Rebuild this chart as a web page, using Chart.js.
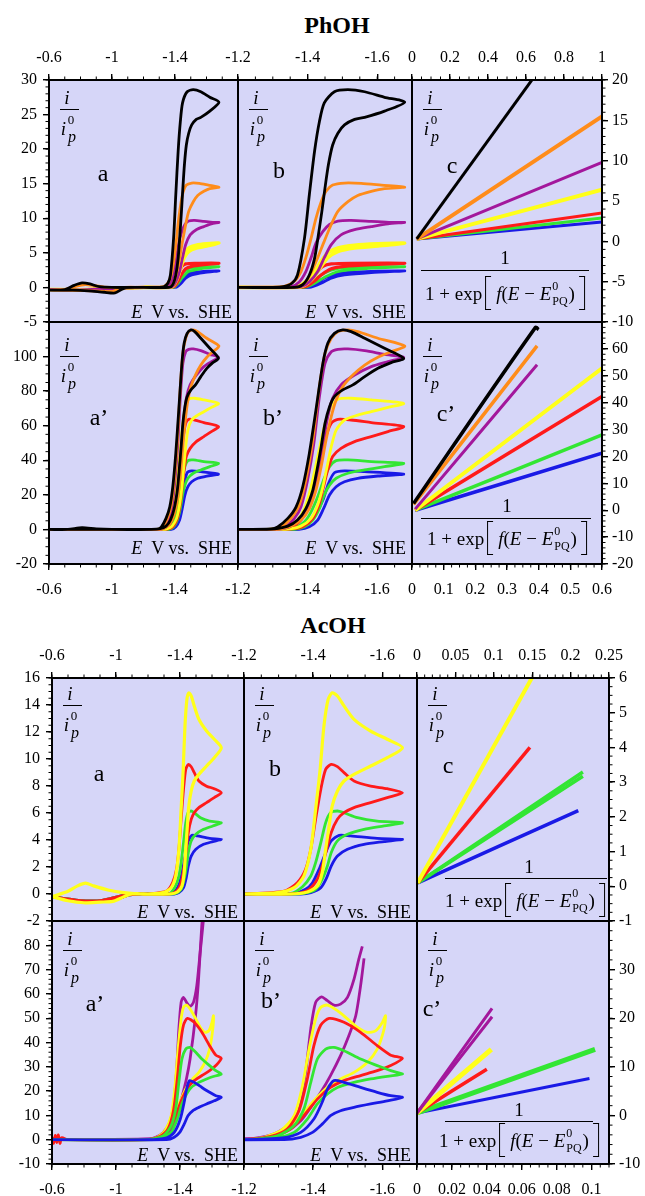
<!DOCTYPE html>
<html>
<head>
<meta charset="utf-8">
<script src="https://cdn.jsdelivr.net/npm/chart.js@4.4.0/dist/chart.umd.min.js"></script>
<style>
body { margin: 0; background: #fff; }
#fig { position: relative; width: 645px; height: 1196px; overflow: hidden; font-family: 'Liberation Serif', serif; color: #000; }
canvas { position: absolute; }
.t { position: absolute; white-space: nowrap; line-height: 1; transform: translate(-50%, -50%); }
.title { font-weight: bold; font-size: 24px; }
.lab { font-size: 24px; }
.sv { font-size: 18px; transform: translate(-100%, -50%); }
.ip { position: absolute; width: 0; height: 0; }
.ip span { position: absolute; line-height: 1; transform: translate(-50%, -50%); }
.ip .bar { position: absolute; height: 1.3px; background: #000; }
.num { font-size: 19px; }
.den { font-size: 19px; display: flex; align-items: center; }
.bk { display: inline-block; width: 5px; height: 32px; border: 1.2px solid #000; }
.bl { border-right: none; margin: 0 5px 0 3px; }
.br { border-left: none; margin-left: 4px; }
.ss { display: inline-flex; flex-direction: column; font-size: 12px; line-height: 1; margin: 0 1px; }
.ss span:first-child { margin-bottom: 3px; }
.fbar { position: absolute; height: 1.3px; background: #000; }
</style>
</head>
<body>
<div id="fig"></div>
<script>
// ---------- PhOH, panels a / b : i/ip0 vs E (V vs SHE), forward scan then reverse
const phBlack = [[-0.60,-0.4],[-0.70,-0.3],[-0.76,0.3],[-0.81,0.65],[-0.86,0.5],[-0.92,0.1],[-1.00,0],[-1.20,0],[-1.30,0],[-1.33,0.1],[-1.355,0.6],[-1.371,1.8],[-1.391,7.1],[-1.405,13.4],[-1.42,19.7],[-1.434,24.0],[-1.448,26.7],[-1.477,28.3],[-1.516,28.6],[-1.564,28.3],[-1.621,27.5],[-1.679,26.8],
  [-1.621,25.5],[-1.564,24.6],[-1.535,24.3],[-1.506,23.5],[-1.487,22.3],[-1.472,20.6],[-1.46,17.8],[-1.45,14.4],[-1.441,11.0],[-1.431,7.6],[-1.42,4.2],[-1.405,1.8],[-1.386,0.4],[-1.362,0],[-1.20,0],[-1.10,0],[-1.06,-0.3],[-1.02,-0.8],[-0.95,-0.7],[-0.85,-0.5],[-0.75,-0.4],[-0.60,-0.4]];
const phOrange = [[-0.60,-0.35],[-0.70,-0.3],[-0.77,0.15],[-0.83,0.4],[-0.89,0.25],[-0.95,0.05],[-1.05,0],[-1.20,0],[-1.30,0],[-1.333,0.15],[-1.362,0.9],[-1.381,2.3],[-1.395,4.3],[-1.41,7.1],[-1.424,10.0],[-1.439,12.4],[-1.453,13.9],[-1.472,14.8],[-1.506,15.1],[-1.554,15.05],[-1.612,14.8],[-1.679,14.5],
  [-1.621,14.3],[-1.583,13.9],[-1.544,13.3],[-1.516,12.4],[-1.487,11.0],[-1.468,9.1],[-1.448,6.7],[-1.429,4.3],[-1.41,2.1],[-1.391,0.6],[-1.362,0],[-1.20,0],[-1.08,0],[-1.04,-0.3],[-1.0,-0.6],[-0.93,-0.55],[-0.82,-0.45],[-0.72,-0.35],[-0.60,-0.35]];
const phPurple = [[-0.60,-0.3],[-0.80,-0.35],[-1.00,-0.1],[-1.20,0],[-1.30,0],[-1.352,0.1],[-1.376,0.8],[-1.395,2.3],[-1.41,4.3],[-1.424,6.4],[-1.444,8.1],[-1.463,9.1],[-1.487,9.6],[-1.525,9.7],[-1.583,9.55],[-1.640,9.4],[-1.679,9.4],
  [-1.631,9.2],[-1.583,8.8],[-1.535,8.35],[-1.496,7.6],[-1.468,6.2],[-1.448,4.3],[-1.429,2.3],[-1.405,0.8],[-1.381,0.1],[-1.34,0],[-1.20,0],[-1.00,-0.2],[-0.80,-0.4],[-0.60,-0.3]];
const phYellow = [[-0.60,-0.3],[-0.80,-0.35],[-1.00,-0.1],[-1.20,0],[-1.32,0],[-1.371,0.15],[-1.40,1.1],[-1.42,2.3],[-1.439,3.8],[-1.458,5.0],[-1.487,5.7],[-1.535,6.1],[-1.602,6.3],[-1.679,6.4],
  [-1.602,6.0],[-1.535,5.7],[-1.487,5.2],[-1.458,4.3],[-1.439,3.05],[-1.42,1.6],[-1.40,0.6],[-1.381,0.1],[-1.34,0],[-1.20,0],[-1.00,-0.2],[-0.80,-0.4],[-0.60,-0.3]];
const phRed = [[-0.60,-0.3],[-0.80,-0.35],[-1.00,-0.1],[-1.20,0],[-1.33,0],[-1.381,0.1],[-1.405,0.9],[-1.424,2.1],[-1.444,3.05],[-1.468,3.4],[-1.525,3.5],[-1.679,3.5],
  [-1.583,3.3],[-1.506,3.05],[-1.468,2.7],[-1.439,1.8],[-1.42,0.95],[-1.395,0.15],[-1.35,0],[-1.20,0],[-1.00,-0.2],[-0.80,-0.4],[-0.60,-0.3]];
const phGreen = [[-0.60,-0.3],[-0.80,-0.35],[-1.00,-0.1],[-1.20,0],[-1.34,0],[-1.386,0.05],[-1.415,0.9],[-1.439,1.8],[-1.468,2.5],[-1.516,2.9],[-1.679,3.0],
  [-1.564,2.7],[-1.487,2.3],[-1.448,1.45],[-1.42,0.6],[-1.395,0.05],[-1.35,0],[-1.20,0],[-1.00,-0.2],[-0.80,-0.4],[-0.60,-0.3]];
const phBlue = [[-0.60,-0.3],[-0.80,-0.35],[-1.00,-0.1],[-1.20,0],[-1.35,0],[-1.391,0],[-1.42,0.5],[-1.448,1.35],[-1.477,1.9],[-1.525,2.2],[-1.679,2.4],
  [-1.583,2.15],[-1.506,1.8],[-1.468,1.35],[-1.439,0.6],[-1.41,0.05],[-1.36,0],[-1.20,0],[-1.00,-0.2],[-0.80,-0.4],[-0.60,-0.3]];

// ---------- PhOH, panels a' / b'
const phBlack2 = [[-0.60,0],[-0.72,0],[-0.81,1.0],[-0.90,0.3],[-1.00,0],[-1.20,0],[-1.295,0.3],[-1.314,1.5],[-1.343,6.4],[-1.367,13.1],[-1.386,24.7],[-1.405,44.0],[-1.424,69.1],[-1.444,96.1],[-1.458,107.7],[-1.477,113.4],[-1.501,115.4],[-1.525,114.4],[-1.564,110.6],[-1.621,104.8],[-1.676,99.0],
  [-1.640,96.5],[-1.602,93.2],[-1.564,88.4],[-1.530,83.6],[-1.501,80.7],[-1.477,76.8],[-1.463,71.0],[-1.450,61.4],[-1.439,47.9],[-1.427,34.4],[-1.415,22.8],[-1.395,12.1],[-1.371,5.4],[-1.343,1.9],[-1.305,0.4],[-1.25,0],[-1.00,0],[-0.60,0]];
const phOrange2 = [[-0.60,0],[-1.20,0],[-1.30,0.2],[-1.324,1.5],[-1.352,6.4],[-1.376,14.1],[-1.395,28.6],[-1.415,51.7],[-1.434,82.6],[-1.450,101.9],[-1.468,110.6],[-1.487,114.4],[-1.516,115.4],[-1.544,114.4],[-1.602,110.6],[-1.679,106.1],
  [-1.640,102.8],[-1.602,99.6],[-1.564,95.1],[-1.530,89.3],[-1.501,82.6],[-1.482,74.9],[-1.468,65.3],[-1.453,51.7],[-1.439,36.3],[-1.424,22.8],[-1.405,12.1],[-1.381,5.4],[-1.352,1.9],[-1.314,0.2],[-1.25,0],[-0.60,0]];
const phPurple2 = [[-0.60,0],[-1.20,0],[-1.31,0.2],[-1.333,1.2],[-1.362,6.4],[-1.381,13.1],[-1.400,28.6],[-1.418,49.8],[-1.434,76.8],[-1.450,96.1],[-1.468,102.8],[-1.487,104.2],[-1.516,104.4],[-1.564,103.4],[-1.621,101.3],[-1.676,99.6],
  [-1.631,97.1],[-1.583,94.2],[-1.535,89.3],[-1.496,83.6],[-1.472,75.9],[-1.458,65.3],[-1.444,49.8],[-1.431,36.3],[-1.418,22.8],[-1.400,12.1],[-1.376,5.4],[-1.348,1.5],[-1.314,0.2],[-1.25,0],[-0.60,0]];
const phYellow2 = [[-0.60,0],[-1.20,0],[-1.30,0.1],[-1.343,1.2],[-1.371,5.4],[-1.391,12.1],[-1.410,24.7],[-1.429,42.0],[-1.448,59.5],[-1.468,71.0],[-1.487,75.3],[-1.525,75.9],[-1.583,74.9],[-1.676,72.9],
  [-1.631,70.6],[-1.583,68.1],[-1.544,66.1],[-1.506,63.3],[-1.482,57.5],[-1.468,47.9],[-1.456,36.3],[-1.444,24.7],[-1.429,14.1],[-1.410,6.4],[-1.381,1.9],[-1.343,0.2],[-1.28,0],[-0.60,0]];
const phRed2 = [[-0.60,0],[-1.20,0],[-1.31,0.1],[-1.352,1.2],[-1.381,5.4],[-1.400,12.1],[-1.418,22.8],[-1.434,36.3],[-1.450,51.7],[-1.468,61.4],[-1.487,63.7],[-1.525,63.3],[-1.583,61.8],[-1.676,59.5],
  [-1.631,56.6],[-1.583,53.7],[-1.535,50.8],[-1.496,46.9],[-1.472,42.2],[-1.458,34.4],[-1.446,24.7],[-1.434,15.0],[-1.415,6.4],[-1.386,1.5],[-1.352,0.2],[-1.29,0],[-0.60,0]];
const phGreen2 = [[-0.60,0],[-1.20,0],[-1.32,0.1],[-1.362,0.8],[-1.391,4.4],[-1.410,10.2],[-1.429,18.9],[-1.446,28.6],[-1.463,36.3],[-1.482,39.8],[-1.516,40.2],[-1.583,39.2],[-1.676,38.2],
  [-1.621,36.3],[-1.564,34.4],[-1.516,32.5],[-1.482,29.6],[-1.463,25.6],[-1.448,19.9],[-1.434,12.1],[-1.415,5.4],[-1.391,1.5],[-1.362,0],[-1.30,0],[-0.60,0]];
const phBlue2 = [[-0.60,0],[-1.20,0],[-1.33,0],[-1.371,0.4],[-1.400,3.5],[-1.424,9.3],[-1.444,17.0],[-1.460,26.6],[-1.477,32.8],[-1.506,33.9],[-1.564,33.4],[-1.676,32.0],
  [-1.602,30.9],[-1.544,29.6],[-1.506,27.6],[-1.482,24.7],[-1.463,19.9],[-1.446,12.1],[-1.429,5.4],[-1.405,1.5],[-1.376,0],[-1.30,0],[-0.60,0]];

// ---------- PhOH, panels c / c' : i/ip0 vs 1/(1+exp[f(E-E0)])
const phLinBlack = [[0.025,0.3],[1,32]];
const phLinOrange = [[0.025,0.3],[1,15.5]];
const phLinPurple = [[0.025,0.3],[1,9.8]];
const phLinYellow = [[0.025,0.3],[1,6.4]];
const phLinRed = [[0.025,0.3],[1,3.5]];
const phLinGreen = [[0.025,0.3],[1,2.9]];
const phLinBlue = [[0.025,0.3],[1,2.4]];
const phLinBlack2 = [[0.005,2.5],[0.39,68],[0.4,67.2]];
const phLinOrange2 = [[0.005,2.2],[0.395,61.1]];
const phLinPurple2 = [[0.01,0.4],[0.395,54.1]];
const phLinYellow2 = [[0.01,0],[0.6,52.8]];
const phLinRed2 = [[0.01,0],[0.6,42.3]];
const phLinGreen2 = [[0.01,0],[0.6,28.0]];
const phLinBlue2 = [[0.01,0],[0.6,21.2]];

// ---------- AcOH, panels a / b
const acYellow = [[-0.60,-0.2],[-0.70,0.2],[-0.76,0.6],[-0.81,0.8],[-0.86,0.6],[-0.95,0.3],[-1.05,0.1],[-1.15,0],[-1.20,0],[-1.296,0.1],[-1.345,0.47],[-1.373,1.33],[-1.393,3.31],[-1.407,6.27],[-1.42,9.23],[-1.431,12.44],[-1.443,14.4],[-1.455,14.9],[-1.470,14.67],[-1.489,13.93],[-1.518,12.94],[-1.566,12.07],[-1.614,11.46],[-1.658,10.84],
  [-1.614,10.1],[-1.566,9.48],[-1.518,8.86],[-1.489,8.37],[-1.470,7.63],[-1.455,6.52],[-1.446,5.04],[-1.436,3.31],[-1.426,1.58],[-1.412,0.59],[-1.383,0.15],[-1.335,0],[-1.20,0],[-1.10,0],[-1.05,-0.2],[-0.98,-0.55],[-0.90,-0.6],[-0.80,-0.65],[-0.70,-0.5],[-0.60,-0.2]];
const acRed = [[-0.60,-0.2],[-0.75,-0.45],[-0.90,-0.5],[-1.05,-0.1],[-1.15,0],[-1.20,0],[-1.316,0.22],[-1.354,0.84],[-1.378,1.83],[-1.393,3.31],[-1.407,5.53],[-1.422,7.75],[-1.436,9.23],[-1.452,9.6],[-1.470,9.43],[-1.489,8.99],[-1.518,8.37],[-1.566,7.99],[-1.614,7.8],[-1.658,7.5],
  [-1.614,7.14],[-1.566,6.77],[-1.518,6.4],[-1.489,6.02],[-1.470,5.53],[-1.452,4.54],[-1.439,3.31],[-1.426,2.07],[-1.412,1.09],[-1.388,0.35],[-1.354,0.05],[-1.30,0],[-1.20,0],[-1.10,0],[-1.0,-0.4],[-0.85,-0.55],[-0.72,-0.45],[-0.60,-0.2]];
const acGreen = [[-0.60,-0.2],[-0.75,-0.45],[-0.90,-0.5],[-1.05,-0.1],[-1.15,0],[-1.20,0],[-1.335,0.05],[-1.369,0.54],[-1.393,1.33],[-1.407,2.32],[-1.422,3.8],[-1.436,5.28],[-1.450,6.02],[-1.470,6.15],[-1.489,6.02],[-1.528,5.65],[-1.585,5.4],[-1.658,5.28],
  [-1.605,5.04],[-1.547,4.79],[-1.499,4.42],[-1.470,3.93],[-1.452,3.06],[-1.441,2.07],[-1.426,1.09],[-1.407,0.35],[-1.373,0.05],[-1.32,0],[-1.20,0],[-1.10,0],[-1.0,-0.4],[-0.85,-0.55],[-0.72,-0.45],[-0.60,-0.2]];
const acBlue = [[-0.60,-0.2],[-0.75,-0.45],[-0.90,-0.5],[-1.05,-0.1],[-1.15,0],[-1.20,0],[-1.345,0.05],[-1.378,0.35],[-1.398,0.84],[-1.417,1.83],[-1.436,3.06],[-1.452,3.93],[-1.475,4.35],[-1.508,4.3],[-1.585,4.12],[-1.658,4.05],
  [-1.605,3.88],[-1.547,3.68],[-1.499,3.31],[-1.470,2.81],[-1.452,2.07],[-1.439,1.21],[-1.422,0.47],[-1.393,0.1],[-1.364,0],[-1.20,0],[-1.10,0],[-1.0,-0.4],[-0.85,-0.55],[-0.72,-0.45],[-0.60,-0.2]];

// ---------- AcOH, panels a' / b'
const acRed2 = [[-0.60,1.0],[-0.61,-1.5],[-0.62,1.8],[-0.63,-1.2],[-0.64,2.0],[-0.65,-1.5],[-0.66,0.8],[-0.70,0],[-1.20,0],[-1.277,1.4],[-1.325,4.4],[-1.359,11.9],[-1.383,25.0],[-1.402,38.7],[-1.422,47.2],[-1.446,49.9],[-1.489,48.3],[-1.537,44.2],[-1.585,38.7],[-1.624,34.8],[-1.658,33.5],
  [-1.624,30.5],[-1.585,28.4],[-1.537,26.4],[-1.489,24.3],[-1.450,21.5],[-1.412,16.7],[-1.373,9.9],[-1.335,4.4],[-1.277,1.0],[-1.219,0],[-0.70,0]];
const acYellow2 = [[-0.60,0],[-1.20,0],[-1.258,1.0],[-1.306,3.7],[-1.345,9.9],[-1.369,22.2],[-1.388,37.3],[-1.407,49.7],[-1.422,54.5],[-1.441,55.4],[-1.470,53.1],[-1.499,49.7],[-1.528,46.2],[-1.556,44.2],[-1.581,44.9],[-1.600,48.3],[-1.609,51.0],
  [-1.605,45.6],[-1.585,37.3],[-1.556,31.8],[-1.518,27.7],[-1.479,25.0],[-1.441,21.5],[-1.402,16.0],[-1.364,9.9],[-1.316,4.4],[-1.258,1.0],[-1.20,0],[-0.60,0]];
const acGreen2 = [[-0.60,0],[-1.20,0],[-1.296,1.6],[-1.345,5.8],[-1.373,12.6],[-1.393,23.6],[-1.412,33.2],[-1.436,37.3],[-1.460,38.0],[-1.489,36.6],[-1.537,33.2],[-1.585,30.5],[-1.624,28.4],[-1.658,27.0],
  [-1.614,26.1],[-1.566,25.0],[-1.518,23.6],[-1.470,21.5],[-1.441,18.8],[-1.412,14.7],[-1.383,8.5],[-1.345,3.0],[-1.296,0.8],[-1.239,0],[-0.60,0]];
const acBlue2 = [[-0.60,0],[-1.20,0],[-1.316,0.8],[-1.364,3.0],[-1.402,8.5],[-1.426,15.4],[-1.441,20.8],[-1.460,24.3],[-1.489,23.6],[-1.537,21.5],[-1.585,19.5],[-1.624,18.1],[-1.658,17.4],
  [-1.614,16.0],[-1.566,14.7],[-1.518,13.3],[-1.479,11.9],[-1.450,9.9],[-1.426,6.4],[-1.398,3.0],[-1.364,1.0],[-1.316,0],[-0.60,0]];
// purple: b' scan, and a' scan (which runs further up)
const acPurpleFwd = [[-0.60,0],[-1.20,0.3],[-1.248,1.0],[-1.296,3.0],[-1.335,7.1],[-1.359,14.0],[-1.378,27.7],[-1.393,45.6],[-1.407,56.5],[-1.424,58.8],[-1.441,57.2],[-1.460,55.4],[-1.479,55.8],[-1.499,58.6],[-1.518,66.1],[-1.532,74.4],[-1.542,79.6]];
const acPurpleRev = [[-1.547,74.6],[-1.537,63.4],[-1.523,51.0],[-1.503,42.8],[-1.479,34.6],[-1.450,26.4],[-1.422,19.5],[-1.393,13.3],[-1.364,7.8],[-1.325,3.7],[-1.277,1.4],[-1.219,0.3],[-0.60,0]];
const acPurpleFwdA = [[-0.60,0],[-1.20,0.3],[-1.248,1.0],[-1.296,3.0],[-1.335,7.1],[-1.359,14.0],[-1.378,27.7],[-1.393,45.6],[-1.407,56.5],[-1.421,58.6],[-1.441,56.5],[-1.463,54.9],[-1.484,56.5],[-1.505,63.4],[-1.526,77.1],[-1.547,91],[-1.556,100]];
const acPurpleRevA = [[-1.553,100],[-1.536,88],[-1.515,65],[-1.495,49.7],[-1.463,33.2],[-1.440,25],[-1.41,17],[-1.38,10],[-1.34,4],[-1.28,1],[-1.20,0.2],[-0.60,0]];

// ---------- AcOH, panels c / c'
const acLinYellow = [[0.001,0.1],[0.152,6.1]];
const acLinRed = [[0.001,0.1],[0.147,4.0]];
const acLinGreen1 = [[0.001,0.1],[0.216,3.29]];
const acLinGreen2 = [[0.001,0.1],[0.216,3.17]];
const acLinBlue = [[0.001,0.1],[0.21,2.18]];
const acLinPurple1b = [[0,0.5],[0.043,22.0]];
const acLinPurple2b = [[0,0.5],[0.043,20.3]];
const acLinYellow2 = [[0,0.5],[0.0426,13.6]];
const acLinRed2 = [[0,0.5],[0.040,9.5]];
const acLinGreen2b = [[0,0.5],[0.102,13.6]];
const acLinBlue2 = [[0,0.5],[0.0988,7.6]];

// ---------- tick labels
const eWide = [-0.6, -1, -1.4];
const eZoom = [-1.2, -1.4, -1.6];
const phC1Ticks = [0, 0.2, 0.4, 0.6, 0.8, 1];
const phC2Ticks = [0, 0.1, 0.2, 0.3, 0.4, 0.5, 0.6];
const phLeft1 = [-5, 0, 5, 10, 15, 20, 25, 30];
const phLeft2 = [-20, 0, 20, 40, 60, 80, 100];
const phRight1 = [-10, -5, 0, 5, 10, 15, 20];
const phRight2 = [-20, -10, 0, 10, 20, 30, 40, 50, 60];
const acC1Ticks = [0, 0.05, 0.1, 0.15, 0.2, 0.25];
const acC2Ticks = [0, 0.02, 0.04, 0.06, 0.08, 0.1];
const acLeft1 = [-2, 0, 2, 4, 6, 8, 10, 12, 14, 16];
const acLeft2 = [-10, 0, 10, 20, 30, 40, 50, 60, 70, 80];
const acRight1 = [-1, 0, 1, 2, 3, 4, 5, 6];
const acRight2 = [-10, 0, 10, 20, 30];

// ---------- drawing
const fig = document.getElementById('fig');
const M = 44;
const BG = 'rgb(214,214,248)';
const TF = { family: 'Liberation Serif', size: 16 };
const C = { k: '#000000', o: '#ff8c1a', m: '#a3179c', y: '#ffff19', r: '#ff1a1a', g: '#33e633', b: '#1a1ae6' };

function line(pts, color, w) {
  return {
    data: pts.map(p => ({ x: p[0], y: p[1] })),
    borderColor: color, borderWidth: w || 2.8, showLine: true,
    pointRadius: 0, pointHoverRadius: 0, tension: 0.25, fill: false
  };
}

function axis(ax, pos, range, rev, labels, pad) {
  const sc = {
    type: 'linear', axis: ax, position: pos, min: range[0], max: range[1], reverse: !!rev,
    grid: { display: !!labels, drawOnChartArea: false, drawTicks: true, tickLength: 6, color: '#000', lineWidth: 1.4, z: 1 },
    border: { display: true, color: '#000', width: 2, z: 1 },
    ticks: { display: !!labels, autoSkip: false, maxRotation: 0, minRotation: 0, padding: pad, color: '#000', font: TF, z: 1,
      callback: v => String(+v.toFixed(3)) },
    afterFit: s => {
      if (ax === 'x') s.height = M; else s.width = M;
      s.paddingLeft = s.paddingRight = s.paddingTop = s.paddingBottom = 0;
    }
  };
  if (labels) sc.afterBuildTicks = s => { s.ticks = labels.map(v => ({ value: v })); };
  return sc;
}

function minor(ctx, scale, step, fn) {
  const lo = Math.min(scale.min, scale.max), hi = Math.max(scale.min, scale.max);
  for (let k = Math.ceil(lo / step - 1e-6); k <= Math.floor(hi / step + 1e-6); k++) fn(scale.getPixelForValue(k * step));
}

function addText(html, x, y, cls) {
  const d = document.createElement('div');
  d.className = 't ' + cls;
  d.style.left = x + 'px'; d.style.top = y + 'px';
  d.innerHTML = html;
  fig.appendChild(d);
}

function ipLabel(x, y) {
  const d = document.createElement('div');
  d.className = 'ip';
  d.style.left = x + 'px'; d.style.top = y + 'px';
  d.innerHTML =
    '<span style="left:0;top:0;font-size:19px;font-style:italic">i</span>' +
    '<div class="bar" style="left:-7px;top:11.5px;width:19px"></div>' +
    '<span style="left:-3.5px;top:30.5px;font-size:19px;font-style:italic">i</span>' +
    '<span style="left:4px;top:21.5px;font-size:13px">0</span>' +
    '<span style="left:5px;top:40px;font-size:16px;font-style:italic">p</span>';
  fig.appendChild(d);
}

const DEN = '1&nbsp;+&nbsp;exp<span class="bk bl"></span><i>f</i>(<i>E</i>&nbsp;&minus;&nbsp;<i>E</i><span class="ss"><span>0</span><span>PQ</span></span>)<span class="bk br"></span>';

function fracLabel(f) {
  const b = document.createElement('div');
  b.className = 'fbar';
  b.style.left = f[0] + 'px'; b.style.width = (f[1] - f[0]) + 'px'; b.style.top = f[2] + 'px';
  fig.appendChild(b);
  addText('1', f[3], f[4], 'num');
  addText(DEN, f[5], f[6], 'den');
}

function panel(p) {
  const cv = document.createElement('canvas');
  const W = p.w + 2 * M, H = p.h + 2 * M;
  cv.width = W; cv.height = H;
  cv.style.left = (p.l - M) + 'px'; cv.style.top = (p.t - M) + 'px';
  cv.style.width = W + 'px'; cv.style.height = H + 'px';
  fig.appendChild(cv);
  new Chart(cv, {
    type: 'scatter',
    data: { datasets: p.sets },
    options: {
      responsive: false, animation: false, devicePixelRatio: 1, events: [],
      layout: { padding: 0 },
      plugins: { legend: { display: false }, tooltip: { enabled: false } },
      scales: {
        x: axis('x', 'bottom', p.x, p.rev, p.bottom, 10),
        x2: axis('x', 'top', p.x, p.rev, p.top, 7),
        y: axis('y', 'left', p.y, false, p.left, 6),
        y2: axis('y', 'right', p.y, false, p.right, 4)
      }
    },
    plugins: [{
      id: 'frame',
      beforeDraw(c) {
        const a = c.chartArea, ctx = c.ctx;
        ctx.save(); ctx.fillStyle = BG;
        ctx.fillRect(a.left, a.top, a.right - a.left, a.bottom - a.top);
        ctx.restore();
      },
      afterDraw(c) {
        const a = c.chartArea, ctx = c.ctx, s = c.scales;
        ctx.save(); ctx.strokeStyle = '#000'; ctx.lineWidth = 1; ctx.beginPath();
        if (p.top) minor(ctx, s.x2, p.mx, px => { ctx.moveTo(px, a.top); ctx.lineTo(px, a.top - 3.5); });
        if (p.bottom) minor(ctx, s.x, p.mx, px => { ctx.moveTo(px, a.bottom); ctx.lineTo(px, a.bottom + 3.5); });
        if (p.left) minor(ctx, s.y, p.my, py => { ctx.moveTo(a.left, py); ctx.lineTo(a.left - 3.5, py); });
        if (p.right) minor(ctx, s.y2, p.my, py => { ctx.moveTo(a.right, py); ctx.lineTo(a.right + 3.5, py); });
        ctx.stroke(); ctx.restore();
      }
    }]
  });
  ipLabel(p.l + 18, p.t + p.ipy);
  addText(p.name, p.l + p.lp[0], p.t + p.lp[1], 'lab');
  if (p.sv) addText('<i>E</i>&nbsp;&nbsp;V vs.&nbsp; SHE', p.l + p.w - 6, p.t + p.h - p.sv, 'sv');
  if (p.frac) fracLabel(p.frac);
}

const phCV1 = () => [line(phBlack, C.k), line(phOrange, C.o), line(phPurple, C.m), line(phYellow, C.y, 3.6), line(phRed, C.r, 3.2), line(phGreen, C.g), line(phBlue, C.b)];
const phCV2 = () => [line(phBlack2, C.k), line(phOrange2, C.o), line(phPurple2, C.m), line(phYellow2, C.y), line(phRed2, C.r), line(phGreen2, C.g), line(phBlue2, C.b)];
const acCV1 = () => [line(acYellow, C.y, 3.2), line(acRed, C.r), line(acGreen, C.g), line(acBlue, C.b)];

addText('PhOH', 337, 25, 'title');
addText('AcOH', 333, 625, 'title');

const panels = [
  { l: 49, t: 80, w: 189, h: 242, x: [-1.8, -0.6], rev: true, y: [-5, 30], top: eWide, left: phLeft1, mx: 0.1, my: 1,
    name: 'a', lp: [54, 93], ipy: 17, sv: 10, sets: phCV1() },
  { l: 238, t: 80, w: 174, h: 242, x: [-1.7, -1.2], rev: true, y: [-5, 30], top: eZoom, mx: 0.05,
    name: 'b', lp: [41, 90], ipy: 17, sv: 10, sets: phCV1() },
  { l: 412, t: 80, w: 190, h: 242, x: [0, 1], y: [-10, 20], top: phC1Ticks, right: phRight1, mx: 0.05, my: 1,
    name: 'c', lp: [40, 85], ipy: 17, frac: [421, 589, 270, 505, 257, 505, 293],
    sets: [line(phLinBlack, C.k, 3), line(phLinOrange, C.o, 4), line(phLinPurple, C.m, 3), line(phLinYellow, C.y, 4), line(phLinRed, C.r, 3), line(phLinGreen, C.g, 3), line(phLinBlue, C.b, 3)] },
  { l: 49, t: 322, w: 189, h: 242, x: [-1.8, -0.6], rev: true, y: [-20, 120], bottom: eWide, left: phLeft2, mx: 0.1, my: 5,
    name: 'a’', lp: [50, 95], ipy: 22, sv: 16, sets: phCV2() },
  { l: 238, t: 322, w: 174, h: 242, x: [-1.7, -1.2], rev: true, y: [-20, 120], bottom: eZoom, mx: 0.05,
    name: 'b’', lp: [35, 95], ipy: 22, sv: 16, sets: phCV2() },
  { l: 412, t: 322, w: 190, h: 242, x: [0, 0.6], y: [-20, 70], bottom: phC2Ticks, right: phRight2, mx: 0.025, my: 2,
    name: 'c’', lp: [34, 91], ipy: 22, frac: [421, 591, 518, 507, 505, 507, 538],
    sets: [line(phLinBlack2, C.k, 3.5), line(phLinOrange2, C.o, 3.5), line(phLinPurple2, C.m, 3), line(phLinYellow2, C.y, 4), line(phLinRed2, C.r, 3.5), line(phLinGreen2, C.g, 3.5), line(phLinBlue2, C.b, 3.5)] },

  { l: 52, t: 678, w: 192, h: 243, x: [-1.8, -0.6], rev: true, y: [-2, 16], top: eWide, left: acLeft1, mx: 0.1, my: 0.5,
    name: 'a', lp: [47, 95], ipy: 15, sv: 9, sets: acCV1() },
  { l: 244, t: 678, w: 173, h: 243, x: [-1.7, -1.2], rev: true, y: [-2, 16], top: eZoom, mx: 0.05,
    name: 'b', lp: [31, 90], ipy: 15, sv: 9, sets: acCV1() },
  { l: 417, t: 678, w: 192, h: 243, x: [0, 0.25], y: [-1, 6], top: acC1Ticks, right: acRight1, mx: 0.01, my: 0.25,
    name: 'c', lp: [31, 87], ipy: 15, frac: [445, 607, 878, 529, 866, 525, 900],
    sets: [line(acLinYellow, C.y, 4), line(acLinRed, C.r, 3.5), line(acLinGreen1, C.g, 3.5), line(acLinGreen2, C.g, 3.5), line(acLinBlue, C.b, 3.5)] },
  { l: 52, t: 921, w: 192, h: 243, x: [-1.8, -0.6], rev: true, y: [-10, 90], bottom: eWide, left: acLeft2, mx: 0.1, my: 2,
    name: 'a’', lp: [43, 82], ipy: 17, sv: 9,
    sets: [line(acBlue2, C.b), line(acGreen2, C.g), line(acRed2, C.r), line(acYellow2, C.y), line(acPurpleFwdA, C.m), line(acPurpleRevA, C.m)] },
  { l: 244, t: 921, w: 173, h: 243, x: [-1.7, -1.2], rev: true, y: [-10, 90], bottom: eZoom, mx: 0.05,
    name: 'b’', lp: [27, 79], ipy: 17, sv: 9,
    sets: [line(acBlue2, C.b), line(acGreen2, C.g), line(acRed2, C.r), line(acYellow2, C.y), line(acPurpleFwd, C.m), line(acPurpleRev, C.m)] },
  { l: 417, t: 921, w: 192, h: 243, x: [0, 0.11], y: [-10, 40], bottom: acC2Ticks, right: acRight2, mx: 0.005, my: 2,
    name: 'c’', lp: [15, 87], ipy: 17, frac: [445, 593, 1121, 519, 1109, 519, 1140],
    sets: [line(acLinPurple1b, C.m, 3), line(acLinPurple2b, C.m, 3), line(acLinYellow2, C.y, 5), line(acLinRed2, C.r, 3.5), line(acLinGreen2b, C.g, 5), line(acLinBlue2, C.b, 3)] }
];

panels.forEach(panel);
</script>
</body>
</html>
